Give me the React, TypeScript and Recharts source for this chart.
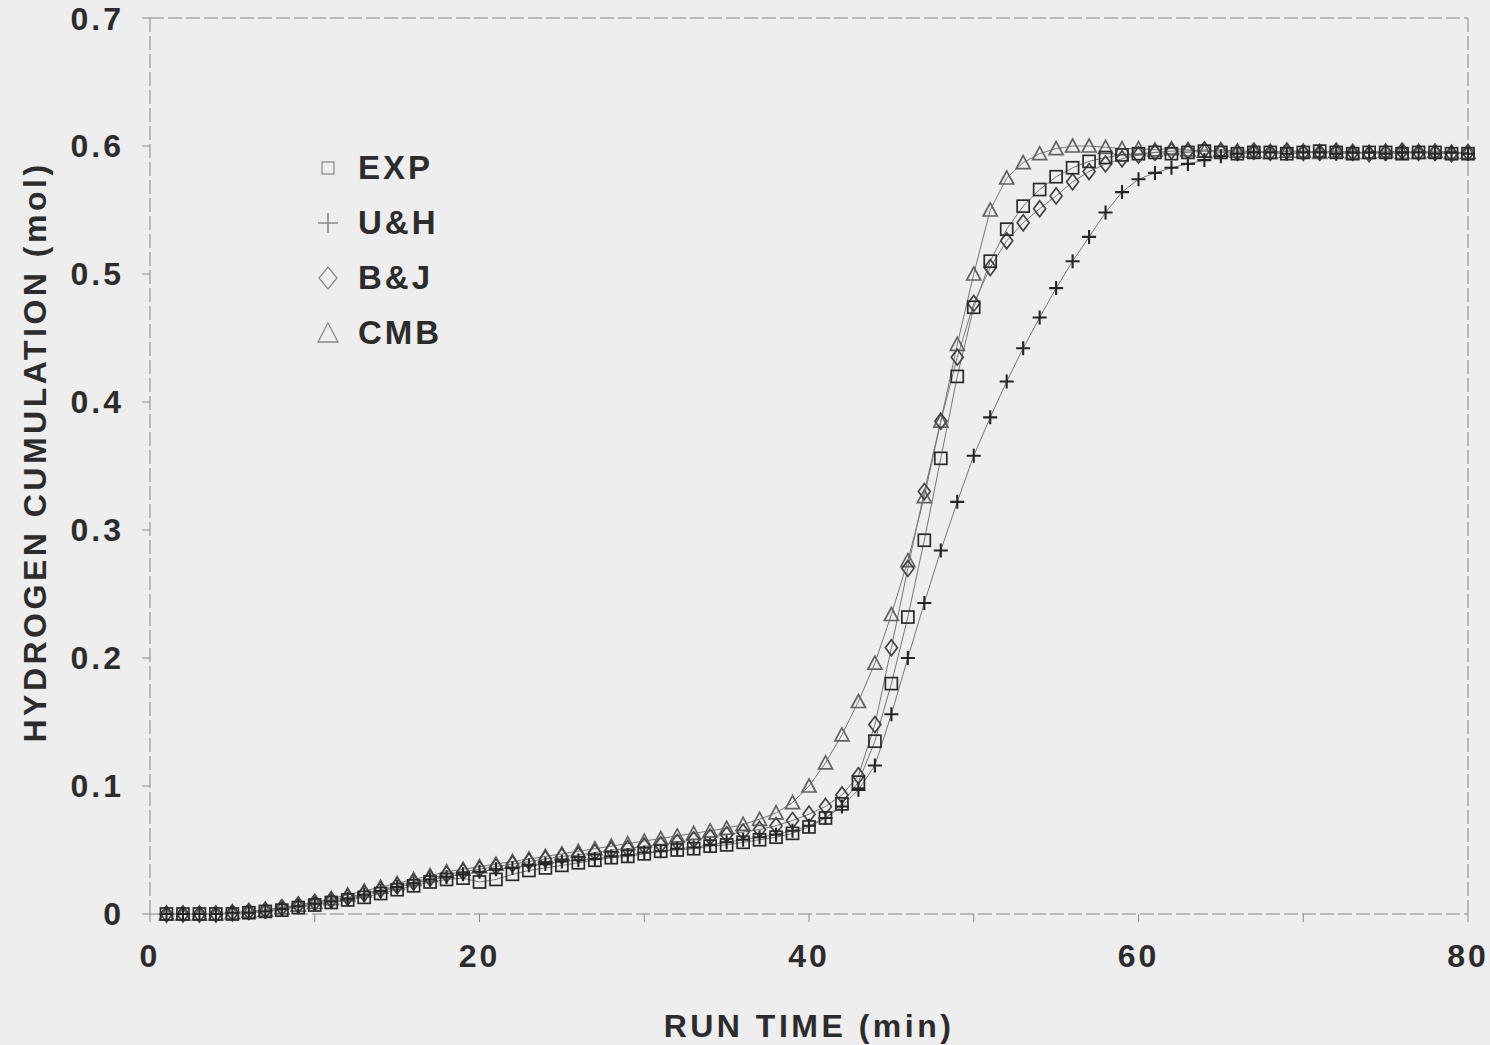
import React from "react";
import {
  LineChart,
  Line,
  XAxis,
  YAxis,
  Legend,
  ReferenceLine,
  Label,
} from "recharts";

// run time, minutes
const TIME = [
  1, 2, 3, 4, 5, 6, 7, 8, 9, 10, 11, 12, 13, 14, 15, 16, 17, 18, 19, 20,
  21, 22, 23, 24, 25, 26, 27, 28, 29, 30, 31, 32, 33, 34, 35, 36, 37, 38, 39, 40,
  41, 42, 43, 44, 45, 46, 47, 48, 49, 50, 51, 52, 53, 54, 55, 56, 57, 58, 59, 60,
  61, 62, 63, 64, 65, 66, 67, 68, 69, 70, 71, 72, 73, 74, 75, 76, 77, 78, 79, 80,
];

// hydrogen cumulation, mol
const EXP = [
  0, 0, 0, 0, 0, 0.001, 0.002, 0.003, 0.005, 0.007,
  0.009, 0.011, 0.013, 0.016, 0.019, 0.022, 0.025, 0.027, 0.028, 0.025,
  0.027, 0.031, 0.034, 0.036, 0.038, 0.04, 0.042, 0.044, 0.045, 0.047,
  0.049, 0.05, 0.051, 0.053, 0.054, 0.056, 0.058, 0.06, 0.063, 0.068,
  0.075, 0.086, 0.103, 0.135, 0.18, 0.232, 0.292, 0.356, 0.42, 0.474,
  0.51, 0.535, 0.553, 0.566, 0.576, 0.583, 0.588, 0.591, 0.593, 0.594,
  0.595, 0.594, 0.595, 0.596, 0.595, 0.594, 0.595, 0.595, 0.594, 0.595,
  0.596, 0.595, 0.594, 0.595, 0.595, 0.594, 0.595, 0.595, 0.594, 0.594,
];
const UH = [
  0, 0, 0, 0, 0.001, 0.001, 0.002, 0.004, 0.006, 0.008,
  0.01, 0.012, 0.015, 0.018, 0.021, 0.024, 0.027, 0.029, 0.031, 0.033,
  0.035, 0.036, 0.038, 0.039, 0.041, 0.042, 0.043, 0.045, 0.046, 0.048,
  0.049, 0.051, 0.052, 0.054, 0.056, 0.058, 0.06, 0.062, 0.065, 0.069,
  0.075, 0.084, 0.097, 0.116, 0.156, 0.2, 0.243, 0.284, 0.322, 0.358,
  0.388, 0.416, 0.442, 0.466, 0.489, 0.51, 0.529, 0.548, 0.564, 0.574,
  0.579, 0.583, 0.586, 0.589, 0.592, 0.594, 0.595, 0.595, 0.594, 0.595,
  0.595, 0.594, 0.595, 0.595, 0.594, 0.595, 0.595, 0.594, 0.595, 0.594,
];
const BJ = [
  0, 0, 0, 0, 0.001, 0.002, 0.003, 0.005, 0.007, 0.009,
  0.011, 0.013, 0.016, 0.019, 0.022, 0.025, 0.028, 0.031, 0.033, 0.035,
  0.037, 0.039, 0.041, 0.043, 0.045, 0.046, 0.048, 0.05, 0.051, 0.053,
  0.054, 0.056, 0.058, 0.06, 0.062, 0.064, 0.066, 0.069, 0.073, 0.078,
  0.084, 0.093, 0.108, 0.148, 0.208, 0.27, 0.33, 0.385, 0.435, 0.477,
  0.505, 0.526, 0.54, 0.551, 0.561, 0.572, 0.58, 0.586, 0.59, 0.593,
  0.595, 0.596, 0.596, 0.597, 0.596, 0.595, 0.596, 0.595, 0.596, 0.595,
  0.595, 0.596, 0.595, 0.594, 0.595, 0.596, 0.595, 0.595, 0.594, 0.595,
];
const CMB = [
  0, 0, 0, 0, 0.001, 0.002, 0.003, 0.005, 0.007, 0.009,
  0.012, 0.015, 0.018, 0.021, 0.024, 0.027, 0.03, 0.033, 0.035, 0.037,
  0.039, 0.041, 0.043, 0.045, 0.047, 0.049, 0.051, 0.053, 0.055, 0.057,
  0.059, 0.061, 0.063, 0.065, 0.067, 0.07, 0.074, 0.079, 0.087, 0.1,
  0.118, 0.14, 0.166, 0.196, 0.234, 0.276, 0.326, 0.385, 0.445, 0.5,
  0.55, 0.575, 0.587, 0.594, 0.598, 0.6, 0.6, 0.599, 0.598, 0.598,
  0.597, 0.598, 0.597, 0.596, 0.597, 0.596, 0.596, 0.595, 0.596, 0.596,
  0.595, 0.596, 0.595, 0.595, 0.596, 0.595, 0.595, 0.596, 0.595, 0.595,
];

const X_TICKS = [0, 10, 20, 30, 40, 50, 60, 70, 80];
const Y_TICKS = [0, 0.1, 0.2, 0.3, 0.4, 0.5, 0.6, 0.7];

const SERIES = [
  { key: "cmb", name: "CMB", shape: "triangle", color: "#626262" },
  { key: "bj", name: "B&J", shape: "diamond", color: "#444444" },
  { key: "uh", name: "U&H", shape: "plus", color: "#252525" },
  { key: "exp", name: "EXP", shape: "square", color: "#2a2a2a" },
];
const LEGEND_ORDER = ["exp", "uh", "bj", "cmb"];

const rows = TIME.map((t, i) => ({
  t,
  exp: EXP[i],
  uh: UH[i],
  bj: BJ[i],
  cmb: CMB[i],
}));

const FONT = "'Liberation Sans', Arial, sans-serif";
const INK = "#2c2c2c";
const FRAME = "#a8a8a8";

function Marker({ shape, cx, cy, color, s = 7, w = 1.7 }: any) {
  if (shape === "square")
    return (
      <rect x={cx - s + 1} y={cy - s + 1} width={2 * s - 2} height={2 * s - 2}
        fill="none" stroke={color} strokeWidth={w} />
    );
  if (shape === "plus")
    return (
      <path d={`M${cx - s},${cy}H${cx + s}M${cx},${cy - s}V${cy + s}`}
        stroke={color} strokeWidth={w + 0.4} fill="none" />
    );
  if (shape === "diamond")
    return (
      <polygon points={`${cx},${cy - s - 1} ${cx + s - 1},${cy} ${cx},${cy + s + 1} ${cx - s + 1},${cy}`}
        fill="none" stroke={color} strokeWidth={w} />
    );
  return (
    <polygon points={`${cx},${cy - s} ${cx + s},${cy + s - 1} ${cx - s},${cy + s - 1}`}
      fill="none" stroke={color} strokeWidth={w} />
  );
}

function renderLegend() {
  return (
    <div style={{ fontFamily: FONT, fontWeight: 700, fontSize: 33, color: INK, letterSpacing: 3 }}>
      {LEGEND_ORDER.map((k) => {
        const s = SERIES.find((x) => x.key === k)!;
        return (
          <div key={k} style={{ display: "flex", alignItems: "center", height: 55 }}>
            <svg width={44} height={30} style={{ marginRight: 8 }}>
              <Marker shape={s.shape} cx={22} cy={15}
                s={s.shape === "square" ? 7 : 10} w={1.3} color="#8a8a8a" />
            </svg>
            <span>{s.name}</span>
          </div>
        );
      })}
    </div>
  );
}

const tickStyle = { fill: INK, fontSize: 32, fontWeight: 700, fontFamily: FONT, letterSpacing: 3 };

export default function App() {
  return (
    <div style={{ position: "absolute", left: 0, top: 0, width: 1490, height: 1045, background: "#eeeeee" }}>
      <LineChart width={1490} height={1045} data={rows}
        margin={{ top: 18, right: 22, bottom: 5, left: 0 }}>
        <XAxis
          dataKey="t"
          type="number"
          domain={[0, 80]}
          ticks={X_TICKS}
          tickFormatter={(v: number) => (v % 20 === 0 ? String(v) : "")}
          tick={tickStyle}
          tickSize={8}
          tickMargin={22}
          height={126}
          axisLine={{ stroke: FRAME, strokeWidth: 1.5, strokeDasharray: "14 4" }}
          tickLine={{ stroke: "#888" }}
        >
          <Label value="RUN TIME (min)" position="insideBottom" offset={3}
            style={{ fill: INK, fontSize: 32, fontWeight: 700, fontFamily: FONT, letterSpacing: 3.5 }} />
        </XAxis>
        <YAxis
          type="number"
          domain={[0, 0.7]}
          ticks={Y_TICKS}
          tickFormatter={(v: number) => (v === 0 ? "0" : v.toFixed(1))}
          tick={tickStyle}
          width={150}
          tickSize={8}
          tickMargin={18}
          axisLine={{ stroke: FRAME, strokeWidth: 1.5, strokeDasharray: "14 4" }}
          tickLine={{ stroke: "#888" }}
        >
          <Label
            content={() => (
              <text x={38} y={452} transform="rotate(-90 38 452)" textAnchor="middle"
                dominantBaseline="middle"
                style={{ fill: INK, fontSize: 32, fontWeight: 700, fontFamily: FONT, letterSpacing: 3.5 }}>
                HYDROGEN CUMULATION (mol)
              </text>
            )}
          />
        </YAxis>
        <ReferenceLine y={0.7} stroke={FRAME} strokeWidth={1.5} strokeDasharray="14 4" />
        <ReferenceLine x={80} stroke={FRAME} strokeWidth={1.5} strokeDasharray="14 4" />
        <Legend
          content={renderLegend}
          layout="horizontal"
          verticalAlign="middle"
          align="center"
          wrapperStyle={{ left: 306, top: 140, width: 170 }}
        />
        {SERIES.map((s) => (
          <Line
            key={s.key}
            dataKey={s.key}
            name={s.name}
            type="linear"
            stroke="#777"
            strokeWidth={1}
            isAnimationActive={false}
            activeDot={false}
            dot={(p: any) => (
              <Marker key={`${s.key}-${p.index}`} shape={s.shape} cx={p.cx} cy={p.cy}
                color={s.color} />
            )}
          />
        ))}
      </LineChart>
    </div>
  );
}
